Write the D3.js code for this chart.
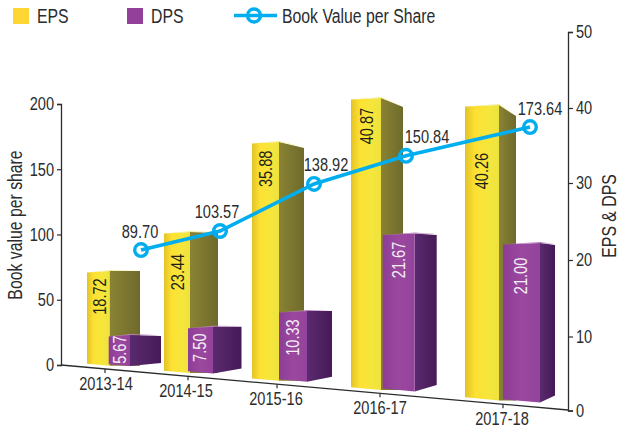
<!DOCTYPE html>
<html><head><meta charset="utf-8">
<script src="https://cdnjs.cloudflare.com/ajax/libs/d3/7.8.5/d3.min.js"></script>
<style>
html,body{margin:0;background:#fff}
text{font-family:"Liberation Sans",sans-serif;fill:#2a2c2e}
</style></head><body><svg id="c" width="620" height="430"></svg>
<script>
const categories=["2013-14","2014-15","2015-16","2016-17","2017-18"];
const eps=[18.72,23.44,35.88,40.87,40.26];
const dps=[5.67,7.50,10.33,21.67,21.00];
const bookValue=[89.70,103.57,138.92,150.84,173.64];
const leftTicks=[0,50,100,150,200];
const rightTicks=[0,10,20,30,40,50];

const svg=d3.select("#c"),FS=18,TS=19.5;
const defs=svg.append("defs");
function grad(id,stops){const g=defs.append("linearGradient").attr("id",id);
  stops.forEach(([o,c])=>g.append("stop").attr("offset",o).attr("stop-color",c));}
grad("yf",[[0,"#e2c326"],[.3,"#fee133"],[.7,"#f5e63c"],[1,"#eee23e"]]);
grad("ys",[[0,"#8a8334"],[1,"#6e6a2b"]]);
grad("pf",[[0,"#8d3d96"],[.5,"#9b489f"],[1,"#93439b"]]);
grad("ps",[[0,"#5a2a6e"],[1,"#451a58"]]);

// perspective: the chart plane recedes, so every dimension is a scale over the category index
const idx=categories.map((d,i)=>i);
const s=r=>d3.scaleLinear().domain(idx).range(r);
const tickX=s([105,188,277,380,503]);
const catLabelX=s([106,186,276,380,502]);
const ground=d3.scaleLinear().domain([61,568]).range([365,410]);
const P={
 eps:{left:s([87,164,252,351,465]),front:s([22.5,26,27,30,34]),side:s([30.5,28,25,22,17]),unit:s([5.06,6.01,6.66,7.14,7.335]),lift:3.5,
      drop:s([0,1,6,9,11]),rise:s([0,0,0,0,0]),lab:s([25.5,40,27,28,66]),fy:"url(#yf)",sy:"url(#ys)",top:"#f3eda0",tc:"#1f1f1a",tx:s([13,14,14,16,17])},
 dps:{left:s([108.7,188,279,382.7,503]),front:s([21.3,25,28,32,37]),side:s([31,28.5,25,22,15]),unit:s([5.47,6.24,6.85,7.29,7.6]),lift:5,
      drop:s([1,0,0,1.5,2]),rise:s([3,5,5,6.5,7]),lab:s([14.5,21,26.5,26.5,33]),fy:"url(#pf)",sy:"url(#ps)",top:"#b783bd",tc:"#f4eef6",tx:s([11,12,14,15.5,18])}
};
function drawBars(vals,p){
  const g=svg.append("g");
  vals.forEach((v,i)=>{
    const L=p.left(i),M=L+p.front(i),R=M+p.side(i);
    const bM=ground(M)-p.lift,bL=ground(L)-p.lift,tM=bM-v*p.unit(i),tL=tM+1.5,tR=tM+p.drop(i),bR=bM-p.rise(i);
    const poly=a=>a.map(q=>q.join(",")).join(" ");
    g.append("polygon").attr("points",poly([[M,tM],[R,tR],[R,bR],[M,bM]])).attr("fill",p.sy);
    g.append("polygon").attr("points",poly([[L,tL],[M,tM],[M,bM],[L,bL]])).attr("fill",p.fy);
    g.append("polygon").attr("points",poly([[L,tL],[M,tM-1],[R,tR-.8],[M,tM]])).attr("fill",p.top);
    const x=L+p.tx(i),y=tM+p.lab(i);
    g.append("text").attr("transform",`translate(${x},${y}) rotate(-90)`).attr("text-anchor","middle")
      .attr("dy",".36em").attr("font-size",FS).style("fill",p.tc).text(v.toFixed(2));
  });
}
drawBars(eps,P.eps);
drawBars(dps,P.dps);

// axes
const yL=d3.scaleLinear().domain([0,200]).range([365,104]);
const yR=d3.scaleLinear().domain(rightTicks).range([410.5,336.5,260,183,108,32]);
function styleAxis(g){g.selectAll("path").attr("stroke","#2a2c2e").attr("stroke-width",1.3);
  g.selectAll("line").attr("stroke","#2a2c2e").attr("stroke-width",1.2);
  g.selectAll("text").attr("font-size",FS);g.attr("font-family",null).attr("font-size",null);}
svg.append("g").attr("transform","translate(61,0)").call(d3.axisLeft(yL).tickValues(leftTicks).tickSize(4).tickSizeOuter(4).tickPadding(3)).call(styleAxis);
svg.append("g").attr("transform","translate(568,0)").call(d3.axisRight(yR).tickValues(rightTicks).tickSize(5).tickSizeOuter(5).tickPadding(3)).call(styleAxis);

// receding category axis
svg.append("path").attr("d",d3.line()([[61,ground(61)],[568,ground(568)]])).attr("stroke","#2a2c2e").attr("stroke-width",1.3).attr("fill","none");
const catG=svg.append("g");
categories.forEach((c,i)=>{
  const x=tickX(i),y=ground(x);
  catG.append("line").attr("x1",x).attr("x2",x).attr("y1",y).attr("y2",y+4).attr("stroke","#2a2c2e").attr("stroke-width",1.2);
  catG.append("text").attr("x",catLabelX(i)).attr("y",y+14.5).attr("dy",".36em").attr("text-anchor","middle").attr("font-size",FS).text(c);
});

// book value line on the same receding plane
const bookX=s([141,220,314,406,530]);
const bookUnit=s([1.36,1.43,1.465,1.59,1.61]);
const bookPts=bookValue.map((v,i)=>[bookX(i),ground(bookX(i))-v*bookUnit(i)]);
const CY="#00aeef";
svg.append("path").attr("d",d3.line()(bookPts)).attr("fill","none").attr("stroke",CY).attr("stroke-width",3.6);
const labDx=s([-1,-3,12,21,10]);
bookPts.forEach((q,i)=>{
  svg.append("circle").attr("cx",q[0]).attr("cy",q[1]).attr("r",6.3).attr("fill","none").attr("stroke",CY).attr("stroke-width",3.4);
  svg.append("text").attr("x",q[0]+labDx(i)).attr("y",q[1]-19).attr("dy",".36em").attr("text-anchor","middle").attr("font-size",FS).text(bookValue[i].toFixed(2));
});

// titles
svg.append("text").attr("transform","translate(15,225) rotate(-90)").attr("text-anchor","middle").attr("dy",".36em").attr("font-size",TS).text("Book value per share");
svg.append("text").attr("transform","translate(608.5,216) rotate(-90)").attr("text-anchor","middle").attr("dy",".36em").attr("font-size",TS).text("EPS & DPS");

// legend
const leg=svg.append("g");
[["EPS","#ffd633",13,37],["DPS","#93409a",127,151]].forEach(([t,c,x,tx])=>{
  leg.append("rect").attr("x",x).attr("y",8).attr("width",16).attr("height",16).attr("fill",c);
  leg.append("text").attr("x",tx).attr("y",16).attr("dy",".36em").attr("font-size",TS).text(t);
});
leg.append("line").attr("x1",234).attr("x2",277).attr("y1",15.5).attr("y2",15.5).attr("stroke",CY).attr("stroke-width",3.6);
leg.append("circle").attr("cx",254).attr("cy",15.5).attr("r",6.5).attr("fill","none").attr("stroke",CY).attr("stroke-width",3.4);
leg.append("text").attr("x",282).attr("y",16).attr("dy",".36em").attr("font-size",TS).text("Book Value per Share");

// the original face is condensed: squeeze glyphs horizontally
svg.selectAll("text").each(function(){
  const L=this.getComputedTextLength();
  d3.select(this).attr("textLength",L*0.81).attr("lengthAdjust","spacingAndGlyphs");
});
</script></body></html>
